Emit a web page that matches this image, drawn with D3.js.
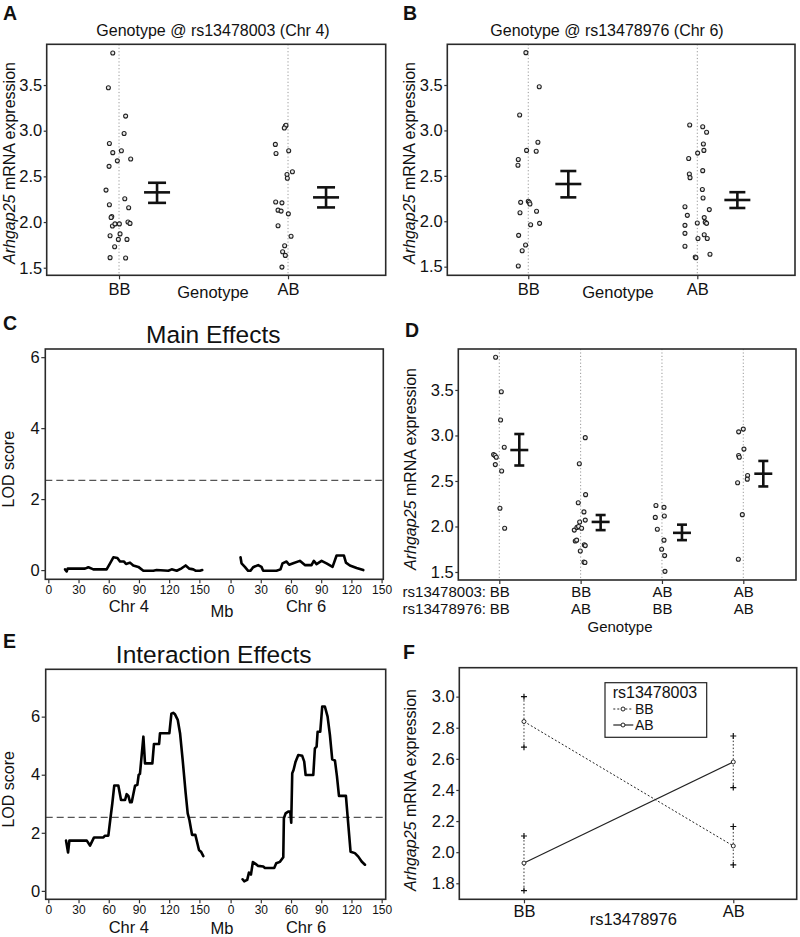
<!DOCTYPE html>
<html><head><meta charset="utf-8">
<script src="https://cdn.jsdelivr.net/npm/d3@7"></script>
<style>
body{margin:0;background:#fff;}
svg text{font-family:"Liberation Sans",Arial,Helvetica,sans-serif;fill:#111;}
</style></head><body>
<svg id="fig" width="800" height="937"></svg>
<script>
// ---------------- DATA ----------------
const genotypes = ["BB", "AB"];
const marker4 = "rs13478003";
const marker6 = "rs13478976";
const exprTicks = [1.5, 2.0, 2.5, 3.0, 3.5];
const lodTicks = [0, 2, 4, 6];
const mbTicks = [0, 30, 60, 90, 120, 150];
const fTicks = [1.8, 2.0, 2.2, 2.4, 2.6, 2.8, 3.0];

// Panel A: genotype at rs13478003 (Chr 4)
const chr4BBExpr = [3.85,3.47,3.16,2.97,2.86,2.76,2.78,2.67,2.69,2.61,2.35,2.255,2.19,2.157,2.06,2.05,1.956,1.98,1.98,2.00,1.985,1.85,1.87,1.81,1.81,1.73,1.61,1.606];
const chr4BBJit  = [-0.037,-0.063,0.039,0.030,-0.057,-0.037,0.014,-0.010,0.069,-0.059,-0.077,0.034,-0.057,0.057,-0.043,-0.047,-0.039,-0.024,0.002,0.053,0.065,-0.053,0.006,-0.004,0.047,-0.026,-0.053,0.039];
const chr4ABExpr = [3.05,3.06,3.03,2.85,2.75,2.78,2.55,2.52,2.48,2.22,2.21,2.13,2.12,2.09,1.96,1.845,1.74,1.675,1.635,1.507];
const chr4ABJit  = [-0.016,-0.012,-0.022,-0.075,-0.071,0.004,0.026,-0.006,-0.004,-0.073,-0.036,-0.059,-0.041,0.002,-0.059,0.018,-0.020,-0.032,-0.016,-0.036];
const chr4Mean = [2.325, 2.27];
const chr4Lo   = [2.21, 2.16];
const chr4Hi   = [2.43, 2.38];

// Panel B: genotype at rs13478976 (Chr 6)
const chr6BBExpr = [3.856,3.48,3.17,2.87,2.78,2.77,2.68,2.616,2.208,2.22,2.21,2.19,2.11,2.094,1.962,1.977,1.845,1.739,1.676,1.507];
const chr6BBJit  = [-0.014,0.065,-0.051,0.057,-0.010,0.047,-0.059,-0.061,-0.045,0,0.006,0.010,0.049,-0.049,0.014,0.067,-0.057,-0.016,-0.036,-0.059];
const chr6ABExpr = [3.06,3.04,2.98,2.85,2.78,2.69,2.75,2.52,2.48,2.557,2.35,2.256,2.16,2.128,2.065,1.955,1.98,2.04,1.99,1.977,1.867,1.852,1.724,1.81,1.81,1.606,1.599,1.636];
const chr6ABJit  = [-0.045,0.032,0.055,0.036,0.039,-0.051,0.002,-0.047,-0.043,0.032,0.030,0.034,-0.073,0.071,-0.059,-0.073,0,0.041,0.047,0.055,-0.073,0.041,-0.073,0.004,0.059,-0.012,-0.008,0.075];
const chr6Mean = [2.41, 2.234];
const chr6Lo   = [2.263, 2.146];
const chr6Hi   = [2.553, 2.32];

// Panel C: main effects LOD
const chr4MainMb  = [16.6,18.2,19.2,36.4,39.8,43.1,44.7,57.9,61.3,64.6,68.6,71.2,75.2,77.2,81.1,84.4,89.4,94.4,104.3,107.6,119.2,122.5,127.5,132.4,136.4,140.1,144.0,146.6,150.6,152.9];
const chr4MainLod = [0.02,-0.04,0.04,0.04,0.08,0.04,0.02,0.02,0.19,0.36,0.34,0.24,0.24,0.17,0.21,0.13,0.09,-0.02,-0.02,0.0,-0.02,0.02,-0.02,0.05,0.13,0.04,0.02,-0.02,-0.02,0.0];
const chr6MainMb  = [9.9,10.9,14.2,17.5,19.8,22.4,27.4,30.7,32.4,45.6,49.6,51.6,55.6,58.2,62.2,68.8,73.8,80.4,82.7,85.4,90.4,95.3,101.3,105.3,112.6,114.6,118.5,125.2,131.8];
const chr6MainLod = [0.36,0.19,0.09,-0.02,-0.02,0.08,0.14,0.09,-0.02,-0.02,0.02,0.19,0.24,0.15,0.19,0.26,0.14,0.14,0.26,0.17,0.26,0.19,0.09,0.41,0.41,0.21,0.13,0.06,0.0];

// Panel D: two-locus genotype groups
const dGroups4 = ["BB", "BB", "AB", "AB"];
const dGroups6 = ["BB", "AB", "BB", "AB"];
const dExpr = [
  [3.86,3.48,3.17,2.87,2.79,2.78,2.76,2.68,2.61,2.20,1.98],
  [2.976,2.69,2.35,2.26,2.16,2.07,2.05,1.96,1.99,2.00,1.98,1.84,1.85,1.80,1.79,1.73,1.61,1.605],
  [2.23,2.21,2.10,2.115,1.97,1.85,1.75,1.68,1.507],
  [3.07,3.04,2.85,2.78,2.76,2.56,2.52,2.48,2.13,1.64]
];
const dJit = [
  [-0.045,0.025,0.016,0.061,-0.070,-0.053,-0.037,-0.049,0.029,0.008,0.066],
  [0.057,-0.016,0.061,-0.029,0.041,0.057,-0.012,-0.078,-0.045,-0.025,0.012,-0.066,-0.049,0.045,0.057,-0.004,0.041,0.053],
  [-0.074,0.025,-0.082,0.029,-0.057,0.025,-0.004,0.033,0.037],
  [0,-0.057,0.008,-0.057,-0.049,0.053,0.049,-0.070,-0.012,-0.061]
];
const dMean = [2.84, 2.05, 1.93, 2.58];
const dLo   = [2.67, 1.96, 1.85, 2.44];
const dHi   = [3.016, 2.126, 2.02, 2.72];

// Panel E: interaction LOD
const chr4IntMb  = [17.6,19.6,20.9,38.2,41.4,45.4,54.7,56.3,59.6,61.5,63.5,65.5,69.5,72.2,76.2,77.8,79.5,81.2,82.8,86.1,88.4,89.7,91.0,94.4,96.0,103.3,104.9,110.0,110.9,120.2,122.2,124.0,125.8,128.5,130.8,133.4,136.4,138.4,140.1,142.7,146.0,149.6,151.6,153.9];
const chr4IntLod = [1.73,1.32,1.73,1.73,1.56,1.84,1.84,1.90,1.90,2.45,3.0,3.63,3.63,3.13,3.13,3.33,3.27,3.05,3.05,3.62,3.65,3.99,4.03,5.31,4.39,4.39,5.06,5.06,5.43,5.43,6.10,6.13,6.08,5.89,5.43,4.51,3.36,2.67,2.44,1.93,1.93,1.41,1.35,1.20];
const chr6IntMb  = [11.9,13.5,16.5,18.2,20.2,22.1,24.8,27.4,32.4,34.1,43.3,45.3,49.0,52.3,52.9,54.6,57.2,59.2,60.2,61.2,62.5,64.5,67.2,71.1,73.1,74.5,82.1,83.7,85.4,86.4,89.0,91.0,93.6,96.3,98.6,100.9,103.6,105.6,107.6,114.5,116.2,119.1,123.4,126.8,130.1,133.4];
const chr6IntLod = [0.40,0.33,0.38,0.63,0.56,0.99,0.93,0.86,0.84,0.79,0.79,0.95,1.0,1.16,2.50,2.67,2.73,2.73,2.35,4.05,4.16,4.45,4.68,4.65,4.45,3.99,3.99,4.91,4.97,5.48,5.48,6.35,6.35,6.0,5.37,4.53,4.49,3.94,3.27,3.27,2.56,1.35,1.30,1.18,1.01,0.90];
const lodThreshold = 2.53;

// Panel F: interaction plot (means +/- SE)
const fMeanBB = [2.84, 2.04];
const fLoBB   = [2.675, 1.918];
const fHiBB   = [3.0, 2.165];
const fMeanAB = [1.93, 2.58];
const fLoAB   = [1.753, 2.415];
const fHiAB   = [2.104, 2.747];

// ---------------- DRAWING ----------------
const svg = d3.select("#fig");
svg.append("rect").attr("width", 800).attr("height", 937).attr("fill", "#fff");
const SANS = '"Liberation Sans", Arial, sans-serif';
const chr6Offset = 181;

function box(x0, y0, x1, y1) {
  svg.append("rect").attr("x", x0).attr("y", y0).attr("width", x1 - x0).attr("height", y1 - y0)
    .attr("fill", "none").attr("stroke", "#2a2a2a").attr("stroke-width", 1.6);
}
function styleAxis(g, size, family) {
  g.select(".domain").remove();
  g.selectAll("text").attr("font-size", size).attr("fill", "#111").style("font-family", family);
  g.selectAll("line").attr("stroke", "#333").attr("stroke-width", 1.2);
}
function yAxis(x0, y, ticks, fmt, tickLen, pad, size, family) {
  const g = svg.append("g").attr("transform", `translate(${x0},0)`)
    .call(d3.axisLeft(y).tickValues(ticks).tickFormat(fmt).tickSize(tickLen).tickPadding(pad));
  styleAxis(g, size, family);
  return g;
}
function xAxis(y0, x, ticks, fmt, tickLen, pad, size, family) {
  const g = svg.append("g").attr("transform", `translate(0,${y0})`)
    .call(d3.axisBottom(x).tickValues(ticks).tickFormat(fmt).tickSize(tickLen).tickPadding(pad));
  styleAxis(g, size, family);
  return g;
}
function text(x, y, str, size, opts = {}) {
  const t = svg.append("text").attr("x", x).attr("y", y).text(str)
    .attr("font-size", size).attr("text-anchor", opts.anchor || "middle");
  if (opts.weight) t.attr("font-weight", opts.weight);
  if (opts.family) t.style("font-family", opts.family);
  return t;
}
function exprLabel(cx, cy) {
  const t = svg.append("text").attr("transform", `translate(${cx},${cy}) rotate(-90)`)
    .attr("text-anchor", "middle").attr("font-size", 16);
  t.append("tspan").attr("font-style", "italic").text("Arhgap25");
  t.append("tspan").text(" mRNA expression");
}

function strip(o) {
  const x = d3.scaleLinear().domain(o.xd).range([o.x0, o.x1]);
  const y = d3.scaleLinear().domain(o.yd).range([o.y1, o.y0]);
  const g = svg.append("g");
  o.vals.forEach((vals, i) => {
    g.append("line").attr("x1", x(i)).attr("x2", x(i)).attr("y1", o.y0).attr("y2", o.y1)
      .attr("stroke", "#999").attr("stroke-width", 1).attr("stroke-dasharray", "1.2,2.2");
  });
  o.vals.forEach((vals, i) => {
    g.selectAll(null).data(d3.zip(vals, o.jit[i])).join("circle")
      .attr("cx", d => x(i + d[1])).attr("cy", d => y(d[0])).attr("r", 2)
      .attr("fill", "#e8e8e8").attr("stroke", "#222").attr("stroke-width", 1.1);
    const ex = x(i + o.errOff);
    const eb = g.append("g").attr("stroke", "#111").attr("stroke-width", 2.6);
    eb.append("line").attr("x1", ex).attr("x2", ex).attr("y1", y(o.lo[i])).attr("y2", y(o.hi[i]));
    eb.append("line").attr("x1", ex - o.cap).attr("x2", ex + o.cap).attr("y1", y(o.lo[i])).attr("y2", y(o.lo[i]));
    eb.append("line").attr("x1", ex - o.cap).attr("x2", ex + o.cap).attr("y1", y(o.hi[i])).attr("y2", y(o.hi[i]));
    eb.append("line").attr("x1", ex - o.meanW).attr("x2", ex + o.meanW).attr("y1", y(o.mean[i])).attr("y2", y(o.mean[i]));
  });
  box(o.x0, o.y0, o.x1, o.y1);
  yAxis(o.x0, y, exprTicks, d3.format(".1f"), 3, 1.5, 16.5, SANS);
  return { x, y };
}

// ---- Panel A ----
const pA = strip({ x0: 46.7, x1: 385.7, y0: 44.3, y1: 275.3, xd: [-0.428, 1.578], yd: [1.417, 3.946],
  vals: [chr4BBExpr, chr4ABExpr], jit: [chr4BBJit, chr4ABJit], mean: chr4Mean, lo: chr4Lo, hi: chr4Hi,
  errOff: 0.225, cap: 9, meanW: 13 });
xAxis(275.3, pA.x, [0, 1], i => genotypes[i], 4, 3.5, 16.5, SANS);
text(213, 36, `Genotype @ ${marker4} (Chr 4)`, 16);
text(213, 298, "Genotype", 16.5);
exprLabel(15, 163);
text(3, 20, "A", 19.5, { anchor: "start", weight: "bold" });

// ---- Panel B ----
const pB = strip({ x0: 447.3, x1: 795, y0: 44.3, y1: 275.3, xd: [-0.479, 1.578], yd: [1.405, 3.948],
  vals: [chr6BBExpr, chr6ABExpr], jit: [chr6BBJit, chr6ABJit], mean: chr6Mean, lo: chr6Lo, hi: chr6Hi,
  errOff: 0.237, cap: 8, meanW: 13 });
xAxis(275.3, pB.x, [0, 1], i => genotypes[i], 4, 3.5, 16.5, SANS);
text(607, 36, `Genotype @ ${marker6} (Chr 6)`, 16);
text(618, 298, "Genotype", 16.5);
exprLabel(415, 163);
text(403, 20, "B", 19.5, { anchor: "start", weight: "bold" });

// ---- LOD panels (C, E) ----
function lodPanel(o) {
  const x = d3.scaleLinear().domain(o.xd).range([o.x0, o.x1]);
  const y = d3.scaleLinear().domain(o.yd).range([o.y1, o.y0]);
  svg.append("line").attr("x1", o.x0).attr("x2", o.x1).attr("y1", y(lodThreshold)).attr("y2", y(lodThreshold))
    .attr("stroke", "#555").attr("stroke-width", 1.3).attr("stroke-dasharray", "7,4");
  const line = d3.line().x(d => x(d[0])).y(d => y(d[1]));
  [[o.mb4, o.lod4, 0], [o.mb6, o.lod6, chr6Offset]].forEach(([mb, lod, off]) => {
    svg.append("path").datum(d3.zip(mb.map(m => m + off), lod)).attr("d", line)
      .attr("fill", "none").attr("stroke", "#000").attr("stroke-width", 2.6)
      .attr("stroke-linejoin", "round").attr("stroke-linecap", "round");
  });
  box(o.x0, o.y0, o.x1, o.y1);
  yAxis(o.x0, y, lodTicks, d3.format("d"), 4, 1.5, 16.5, SANS);
  const tv = mbTicks.concat(mbTicks.map(m => m + chr6Offset));
  xAxis(o.y1, x, tv, v => (v >= chr6Offset ? v - chr6Offset : v), 4, 2, 12, SANS);
  text(o.x0 + 168, o.titleY, o.title, 24.5);
  svg.append("text").attr("transform", `translate(14,${(o.y0 + o.y1) / 2 + 5}) rotate(-90)`)
    .attr("text-anchor", "middle").attr("font-size", 16).text("LOD score");
  text(x(80), o.chrY, "Chr 4", 16.5);
  text(x(75 + chr6Offset), o.chrY, "Chr 6", 16.5);
  text(222, o.mbY, "Mb", 16.5);
  return { x, y };
}

lodPanel({ x0: 45.3, x1: 383.3, y0: 349, y1: 579.3, xd: [-3.0, 332.7], yd: [-0.26, 6.23],
  mb4: chr4MainMb, lod4: chr4MainLod, mb6: chr6MainMb, lod6: chr6MainLod,
  title: "Main Effects", titleY: 343, chrY: 611.5, mbY: 616.5 });
text(3, 330, "C", 19.5, { anchor: "start", weight: "bold" });

lodPanel({ x0: 45.7, x1: 385.7, y0: 669.3, y1: 899.3, xd: [-2.6, 335], yd: [-0.29, 7.63],
  mb4: chr4IntMb, lod4: chr4IntLod, mb6: chr6IntMb, lod6: chr6IntLod,
  title: "Interaction Effects", titleY: 663, chrY: 932.5, mbY: 933.5 });
text(3, 648, "E", 19.5, { anchor: "start", weight: "bold" });

// ---- Panel D ----
const pD = strip({ x0: 458.3, x1: 796, y0: 349, y1: 580, xd: [-0.504, 3.648], yd: [1.412, 3.95],
  vals: dExpr, jit: dJit, mean: dMean, lo: dLo, hi: dHi, errOff: 0.246, cap: 5, meanW: 9 });
xAxis(580, pD.x, [0, 1, 2, 3], i => dGroups4[i], 4, 2.5, 15, SANS);
dGroups6.forEach((gname, i) => text(pD.x(i) + 0.5, 614.3, gname, 15));
text(486, 597.3, marker4 + ":", 15, { anchor: "end" });
text(486, 614.3, marker6 + ":", 15, { anchor: "end" });
text(620, 631.5, "Genotype", 15);
exprLabel(416, 469);
text(405, 337, "D", 19.5, { anchor: "start", weight: "bold" });

// ---- Panel F ----
(function () {
  const x0 = 459.3, x1 = 796.7, y0 = 667.7, y1 = 899.3;
  const x = d3.scaleLinear().domain([-0.309, 1.303]).range([x0, x1]);
  const y = d3.scaleLinear().domain([1.697, 3.186]).range([y1, y0]);
  const series = [
    { name: "BB", mean: fMeanBB, lo: fLoBB, hi: fHiBB, dash: "2,2", w: 1 },
    { name: "AB", mean: fMeanAB, lo: fLoAB, hi: fHiAB, dash: null, w: 1.2 }
  ];
  series.forEach(s => {
    s.mean.forEach((m, i) => {
      svg.append("line").attr("x1", x(i)).attr("x2", x(i)).attr("y1", y(s.lo[i])).attr("y2", y(s.hi[i]))
        .attr("stroke", "#333").attr("stroke-width", 1).attr("stroke-dasharray", "1.5,2");
      [s.lo[i], s.hi[i]].forEach(v => {
        svg.append("path").attr("d", `M${x(i) - 3},${y(v)}h6M${x(i)},${y(v) - 3}v6`)
          .attr("stroke", "#111").attr("stroke-width", 1.2);
      });
    });
    const p = svg.append("path").datum(s.mean.map((m, i) => [i, m]))
      .attr("d", d3.line().x(d => x(d[0])).y(d => y(d[1])))
      .attr("fill", "none").attr("stroke", "#222").attr("stroke-width", s.w);
    if (s.dash) p.attr("stroke-dasharray", s.dash);
    svg.selectAll(null).data(s.mean).join("circle").attr("cx", (d, i) => x(i)).attr("cy", d => y(d))
      .attr("r", 2).attr("fill", "#fff").attr("stroke", "#222").attr("stroke-width", 1);
  });
  box(x0, y0, x1, y1);
  yAxis(x0, y, fTicks, d3.format(".1f"), 3, 1.5, 16.5, SANS);
  xAxis(y1, x, [0, 1], i => genotypes[i], 4, 1.5, 16.5, SANS);
  text(633.3, 924.5, marker6, 16.5);
  exprLabel(416, 790);
  // legend
  svg.append("rect").attr("x", 605).attr("y", 682.7).attr("width", 101.7).attr("height", 54.6)
    .attr("fill", "#fff").attr("stroke", "#222").attr("stroke-width", 1.2);
  text(655, 697.5, marker4, 16);
  series.forEach((s, k) => {
    const ly = 709 + k * 16;
    const l = svg.append("line").attr("x1", 613.3).attr("x2", 633.3).attr("y1", ly).attr("y2", ly)
      .attr("stroke", "#222").attr("stroke-width", s.w);
    if (s.dash) l.attr("stroke-dasharray", s.dash);
    svg.append("circle").attr("cx", 623).attr("cy", ly).attr("r", 2).attr("fill", "#fff")
      .attr("stroke", "#222").attr("stroke-width", 1);
    text(635, ly + 5, s.name, 14, { anchor: "start" });
  });
  text(403, 659, "F", 19.5, { anchor: "start", weight: "bold" });
})();
</script>
</body></html>
